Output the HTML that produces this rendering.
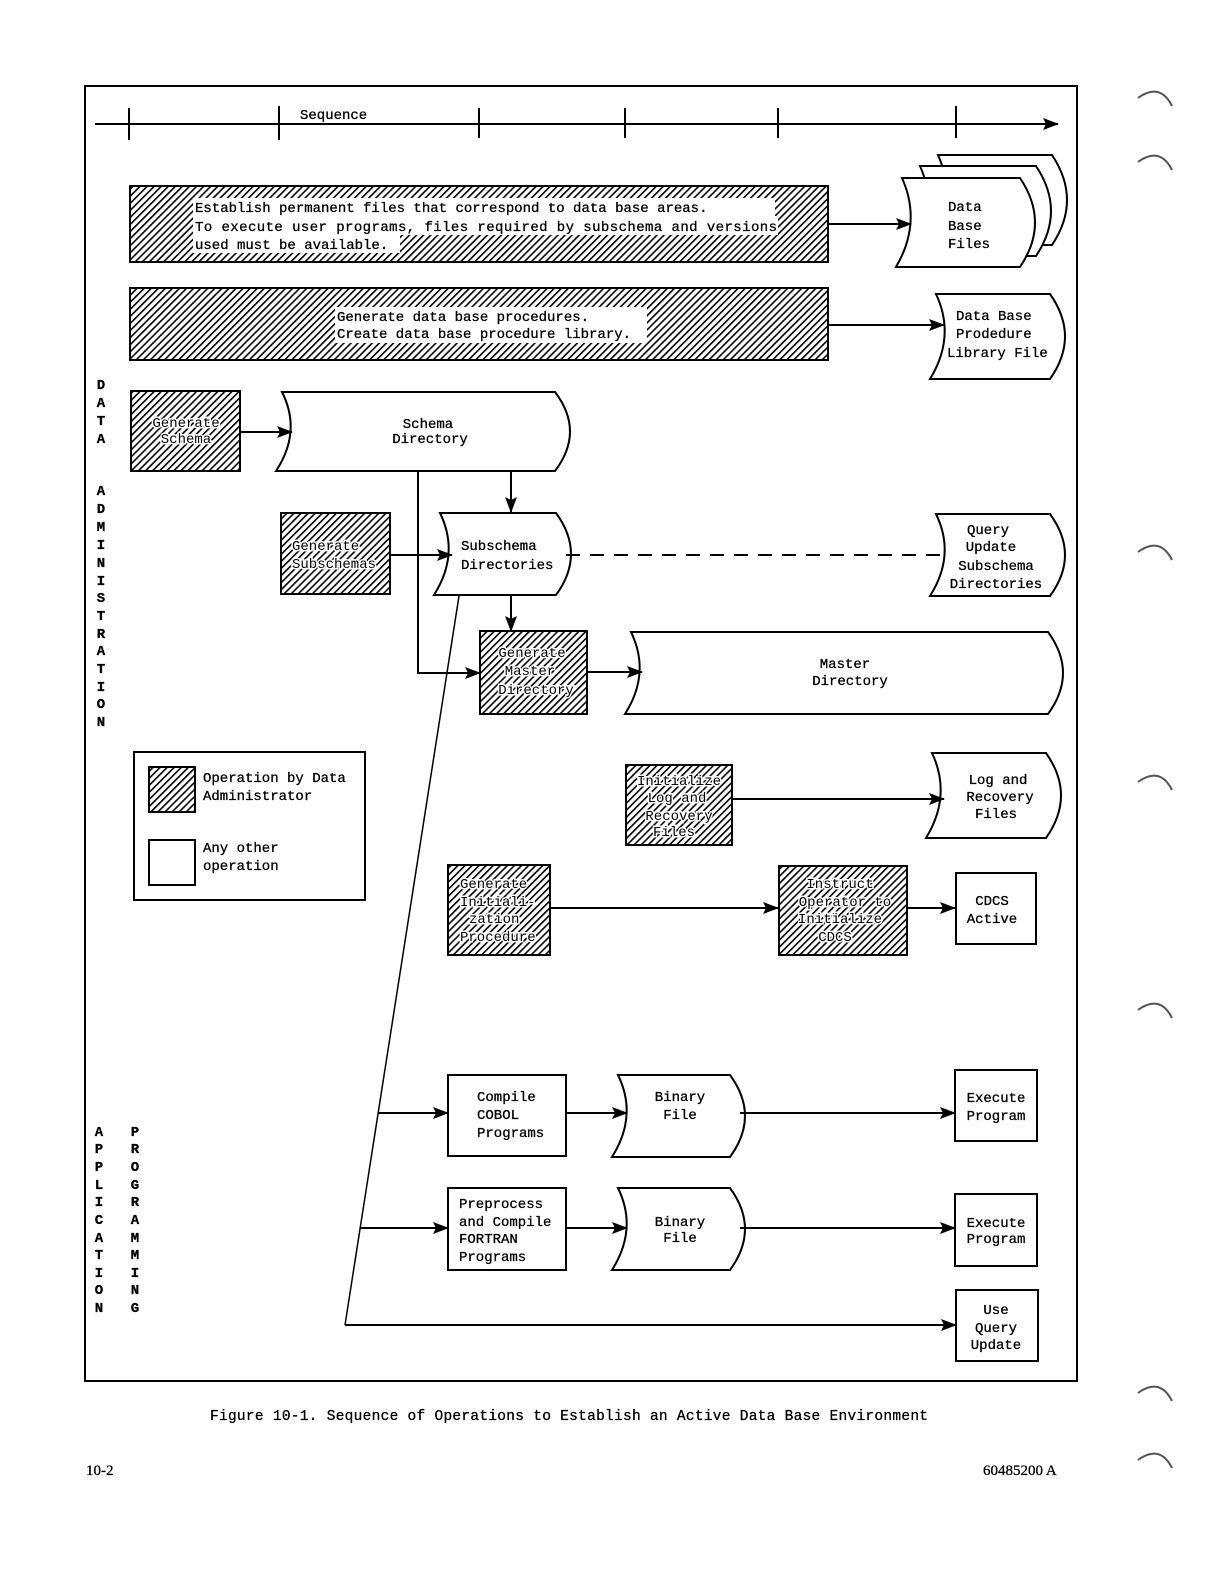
<!DOCTYPE html>
<html><head><meta charset="utf-8"><style>
html,body{margin:0;padding:0;background:#fff;overflow:hidden}
svg{display:block}
text{font-family:"Liberation Mono","DejaVu Sans Mono",monospace;font-size:14px;fill:#000;stroke:#000;stroke-width:0.3px}
.h text,text.h{paint-order:stroke;stroke:#fff;stroke-width:3px}
.c{text-anchor:middle}
</style></head><body>
<svg width="1220" height="1584" viewBox="0 0 1220 1584" xmlns="http://www.w3.org/2000/svg">
<defs>
<pattern id="hat" patternUnits="userSpaceOnUse" width="5" height="5" patternTransform="rotate(45)">
<rect width="5" height="5" fill="#fff"/><rect width="1.6" height="5" fill="#000"/>
</pattern>
<marker id="ar" markerWidth="16" markerHeight="12" refX="15" refY="6" orient="auto" markerUnits="userSpaceOnUse">
<path d="M0,0 L16,6 L0,12 L3,6 Z" fill="#000"/>
</marker>
</defs>
<g fill="none" stroke="#000" stroke-width="2">
<rect x="85" y="86" width="992" height="1295"/>
<line x1="95" y1="124" x2="1058" y2="124" marker-end="url(#ar)"/>
<line x1="129" y1="108" x2="129" y2="140"/><line x1="279" y1="106" x2="279" y2="140"/>
<line x1="479" y1="108" x2="479" y2="138"/><line x1="625" y1="108" x2="625" y2="138"/>
<line x1="778" y1="108" x2="778" y2="138"/><line x1="956" y1="106" x2="956" y2="138"/>
</g>
<text x="300" y="119">Sequence</text>

<rect x="130" y="186" width="698" height="76" fill="url(#hat)" stroke="#000" stroke-width="2"/>
<rect x="193" y="198" width="582" height="18" fill="#fff"/>
<rect x="193" y="216" width="585" height="19" fill="#fff"/>
<rect x="193" y="235" width="207" height="18" fill="#fff"/>
<text x="195" y="212">Establish permanent files that correspond to data base areas.</text>
<text x="195" y="231" textLength="582">To execute user programs, files required by subschema and versions</text>
<text x="195" y="249">used must be available.</text>

<rect x="130" y="288" width="698" height="72" fill="url(#hat)" stroke="#000" stroke-width="2"/>
<rect x="335" y="307" width="312" height="36" fill="#fff"/>
<text x="337" y="321">Generate data base procedures.</text>
<text x="337" y="338">Create data base procedure library.</text>

<g fill="#fff" stroke="#000" stroke-width="2">
<path d="M938,155 H1052 Q1082,200 1052,245 H932 Q958,200 938,155Z"/>
<path d="M920,166 H1036 Q1066,211 1036,256 H914 Q940,211 920,166Z"/>
<path d="M902,178 H1020 Q1050,222.5 1020,267 H896 Q922,222.5 902,178Z"/>
<path d="M936,294 H1050 Q1080,336.5 1050,379 H930 Q956,336.5 936,294Z"/>
<path d="M282,392 H555 Q585,431.5 555,471 H276 Q302,431.5 282,392Z"/>
<path d="M440,513 H556 Q586,554 556,595 H434 Q460,554 440,513Z"/>
<path d="M936,514 H1050 Q1080,555 1050,596 H930 Q956,555 936,514Z"/>
<path d="M631,632 H1048 Q1078,673 1048,714 H625 Q651,673 631,632Z"/>
<path d="M932,753 H1046 Q1076,795.5 1046,838 H926 Q952,795.5 932,753Z"/>
<path d="M618,1075 H730 Q760,1116 730,1157 H612 Q638,1116 618,1075Z"/>
<path d="M618,1188 H730 Q760,1229 730,1270 H612 Q638,1229 618,1188Z"/>
<rect x="956" y="873" width="80" height="71"/>
<rect x="448" y="1075" width="118" height="81"/>
<rect x="955" y="1070" width="82" height="71"/>
<rect x="448" y="1188" width="118" height="82"/>
<rect x="955" y="1194" width="82" height="72"/>
<rect x="956" y="1290" width="82" height="71"/>
<rect x="134" y="752" width="231" height="148"/>
<rect x="149" y="840" width="46" height="45"/>
</g>
<g fill="url(#hat)" stroke="#000" stroke-width="2">
<rect x="131" y="391" width="109" height="80"/>
<rect x="281" y="513" width="109" height="81"/>
<rect x="480" y="631" width="107" height="83"/>
<rect x="626" y="765" width="106" height="80"/>
<rect x="448" y="865" width="102" height="90"/>
<rect x="779" y="866" width="128" height="89"/>
<rect x="149" y="767" width="46" height="45"/>
</g>

<g fill="none" stroke="#000" stroke-width="2">
<line x1="828" y1="224" x2="911" y2="224" marker-end="url(#ar)"/>
<line x1="828" y1="325" x2="944" y2="325" marker-end="url(#ar)"/>
<line x1="240" y1="432" x2="292" y2="432" marker-end="url(#ar)"/>
<polyline points="418,471 418,673 480,673" marker-end="url(#ar)"/>
<line x1="511" y1="471" x2="511" y2="512" marker-end="url(#ar)"/>
<line x1="390" y1="555" x2="452" y2="555" marker-end="url(#ar)"/>
<line x1="566" y1="555" x2="946" y2="555" stroke-dasharray="14,10"/>
<line x1="511" y1="595" x2="511" y2="631" marker-end="url(#ar)"/>
<line x1="587" y1="672" x2="642" y2="672" marker-end="url(#ar)"/>
<line x1="732" y1="799" x2="944" y2="799" marker-end="url(#ar)"/>
<line x1="550" y1="908" x2="778" y2="908" marker-end="url(#ar)"/>
<line x1="907" y1="908" x2="955" y2="908" marker-end="url(#ar)"/>
<line x1="459" y1="596" x2="345" y2="1325" stroke-width="1.5"/>
<line x1="378" y1="1113" x2="448" y2="1113" marker-end="url(#ar)"/>
<line x1="566" y1="1113" x2="627" y2="1113" marker-end="url(#ar)"/>
<line x1="740" y1="1113" x2="955" y2="1113" marker-end="url(#ar)"/>
<line x1="360" y1="1228" x2="448" y2="1228" marker-end="url(#ar)"/>
<line x1="566" y1="1228" x2="627" y2="1228" marker-end="url(#ar)"/>
<line x1="740" y1="1228" x2="955" y2="1228" marker-end="url(#ar)"/>
<line x1="345" y1="1325" x2="956" y2="1325" marker-end="url(#ar)"/>
</g>

<text x="948" y="211">Data</text><text x="948" y="230">Base</text><text x="948" y="248">Files</text>
<text x="956" y="320">Data Base</text><text x="956" y="338">Prodedure</text><text x="947" y="357">Library File</text>
<text class="c" x="428" y="428">Schema</text><text class="c" x="430" y="443">Directory</text>
<text x="461" y="550">Subschema</text><text x="461" y="569">Directories</text>
<text class="c" x="988" y="534">Query</text><text class="c" x="991" y="551">Update</text><text class="c" x="996" y="570">Subschema</text><text class="c" x="996" y="588">Directories</text>
<text class="c" x="845" y="668">Master</text><text class="c" x="850" y="685">Directory</text>
<text class="c" x="998" y="784">Log and</text><text class="c" x="1000" y="801">Recovery</text><text class="c" x="996" y="818">Files</text>
<text class="c" x="992" y="905">CDCS</text><text class="c" x="992" y="923">Active</text>
<text x="477" y="1101">Compile</text><text x="477" y="1119">COBOL</text><text x="477" y="1137">Programs</text>
<text class="c" x="680" y="1101">Binary</text><text class="c" x="680" y="1119">File</text>
<text class="c" x="996" y="1102">Execute</text><text class="c" x="996" y="1120">Program</text>
<text x="459" y="1208">Preprocess</text><text x="459" y="1226">and Compile</text><text x="459" y="1243">FORTRAN</text><text x="459" y="1261">Programs</text>
<text class="c" x="680" y="1226">Binary</text><text class="c" x="680" y="1242">File</text>
<text class="c" x="996" y="1227">Execute</text><text class="c" x="996" y="1243">Program</text>
<text class="c" x="996" y="1314">Use</text><text class="c" x="996" y="1332">Query</text><text class="c" x="996" y="1349">Update</text>

<g class="h">
<text class="c" x="186" y="427">Generate</text><text class="c" x="186" y="443">Schema</text>
<text x="292" y="550">Generate</text><text x="292" y="568">Subschemas</text>
<text class="c" x="532" y="657">Generate</text><text class="c" x="530" y="675">Master</text><text class="c" x="536" y="694">Directory</text>
<text class="c" x="679" y="785">Initialize</text><text class="c" x="677" y="802">Log and</text><text class="c" x="679" y="820">Recovery</text><text class="c" x="674" y="836">Files</text>
<text x="460" y="888">Generate</text><text x="460" y="906">Initiali-</text><text x="469" y="923">zation</text><text x="460" y="941">Procedure</text>
<text class="c" x="840" y="888">Instruct</text><text class="c" x="845" y="906">Operator to</text><text class="c" x="840" y="923">Initialize</text><text class="c" x="835" y="941">CDCS</text>
</g>
<text x="203" y="782">Operation by Data</text><text x="203" y="800">Administrator</text>
<text x="203" y="852">Any other</text><text x="203" y="870">operation</text>

<g class="c" style="font-weight:bold;font-size:13px">
<text x="101" y="389">D</text><text x="101" y="407">A</text><text x="101" y="425">T</text><text x="101" y="443">A</text>
<text x="101" y="495">A</text><text x="101" y="513">D</text><text x="101" y="531">M</text><text x="101" y="549">I</text><text x="101" y="567">N</text><text x="101" y="585">I</text><text x="101" y="602">S</text><text x="101" y="620">T</text><text x="101" y="638">R</text><text x="101" y="655">A</text><text x="101" y="673">T</text><text x="101" y="691">I</text><text x="101" y="708">O</text><text x="101" y="726">N</text>
<text x="99" y="1136">A</text><text x="99" y="1153">P</text><text x="99" y="1171">P</text><text x="99" y="1189">L</text><text x="99" y="1206">I</text><text x="99" y="1224">C</text><text x="99" y="1242">A</text><text x="99" y="1259">T</text><text x="99" y="1277">I</text><text x="99" y="1294">O</text><text x="99" y="1312">N</text>
<text x="135" y="1136">P</text><text x="135" y="1153">R</text><text x="135" y="1171">O</text><text x="135" y="1189">G</text><text x="135" y="1206">R</text><text x="135" y="1224">A</text><text x="135" y="1242">M</text><text x="135" y="1259">M</text><text x="135" y="1277">I</text><text x="135" y="1294">N</text><text x="135" y="1312">G</text>
</g>

<text x="210" y="1420" style="font-size:14.5px" textLength="718">Figure 10-1.  Sequence of Operations to Establish an Active Data Base Environment</text>
<text x="86" y="1475" style="font-family:'Liberation Serif',serif;font-size:15px">10-2</text>
<text x="983" y="1475" style="font-family:'Liberation Serif',serif;font-size:15px">60485200 A</text>

<g fill="none" stroke="#555" stroke-width="2">
<path d="M1138,98 Q1160,82 1172,106"/><path d="M1138,162 Q1160,146 1172,170"/>
<path d="M1138,552 Q1160,536 1172,560"/><path d="M1138,782 Q1160,766 1172,790"/>
<path d="M1138,1010 Q1160,994 1172,1018"/><path d="M1138,1393 Q1160,1377 1172,1401"/>
<path d="M1138,1460 Q1160,1444 1172,1468"/>
</g>
</svg>
</body></html>
